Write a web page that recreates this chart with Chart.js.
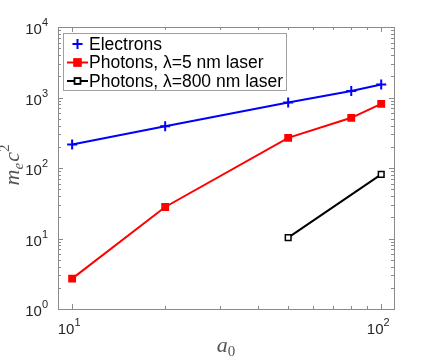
<!DOCTYPE html>
<html>
<head>
<meta charset="utf-8">
<script src="https://cdn.jsdelivr.net/npm/chart.js@4"></script>
<style>
  html, body { margin: 0; padding: 0; background: #fff; }
</style>
</head>
<body>
<canvas id="chart" width="436" height="362"></canvas>
<script>
// data
const a0 = [10, 20, 50, 80, 100];
const electrons = [215, 390, 850, 1240, 1530];
const photons5 = [2.7, 28, 268, 515, 813];
const a0Long = [50, 100];
const photons800 = [10.3, 81];
const xExponents = [1, 2];
const yExponents = [0, 1, 2, 3, 4];
const legendLabels = ["Electrons", "Photons, \u03bb=5 nm laser", "Photons, \u03bb=800 nm laser"];

const axisColor = "#8a8a8a";
const labelColor = "#262626";
const sans = '"Liberation Sans", Arial, sans-serif';
const serif = '"Liberation Serif", "DejaVu Serif", serif';

function toPoints(xs, ys) {
  return xs.map((x, i) => ({ x: x, y: ys[i] }));
}

// "10" with a raised exponent, MATLAB style
function powerLabel(ctx, exp, x, y, align) {
  ctx.font = "15px " + sans;
  let wBase = ctx.measureText("10").width;
  ctx.font = "11px " + sans;
  let wExp = ctx.measureText(String(exp)).width;
  let left = align === "right" ? x - wBase - wExp : x - (wBase + wExp) / 2;
  ctx.textAlign = "left";
  ctx.textBaseline = "alphabetic";
  ctx.font = "15px " + sans;
  ctx.fillText("10", left, y);
  ctx.font = "11px " + sans;
  ctx.fillText(String(exp), left + wBase, y - 8);
}

// box, inward ticks on all sides, tick labels and axis titles
const axesBox = {
  id: "axesBox",
  afterDatasetsDraw(chart) {
    const { ctx, chartArea: a, scales: { x, y } } = chart;
    ctx.save();
    ctx.strokeStyle = axisColor;
    ctx.lineWidth = 1;
    ctx.strokeRect(a.left + 0.5, a.top + 0.5, a.right - a.left, a.bottom - a.top);

    ctx.beginPath();
    for (let d = 0; d <= 2; d++) {
      for (let m = 1; m < 10; m++) {
        let v = m * Math.pow(10, d);
        if (v <= x.min || v >= x.max) continue;
        let px = Math.round(x.getPixelForValue(v)) + 0.5;
        let len = m === 1 ? 5 : 3;
        ctx.moveTo(px, a.bottom); ctx.lineTo(px, a.bottom - len);
        ctx.moveTo(px, a.top); ctx.lineTo(px, a.top + len);
      }
    }
    for (let d = 0; d <= 4; d++) {
      for (let m = 1; m < 10; m++) {
        let v = m * Math.pow(10, d);
        if (v <= y.min || v >= y.max) continue;
        let py = Math.round(y.getPixelForValue(v)) + 0.5;
        let len = m === 1 ? 5 : 3;
        ctx.moveTo(a.left, py); ctx.lineTo(a.left + len, py);
        ctx.moveTo(a.right, py); ctx.lineTo(a.right - len, py);
      }
    }
    ctx.stroke();

    ctx.fillStyle = labelColor;
    for (let e of xExponents) {
      let px = x.getPixelForValue(Math.pow(10, e));
      powerLabel(ctx, e, px - 3, a.bottom + 25, "center");
    }
    for (let e of yExponents) {
      let py = y.getPixelForValue(Math.pow(10, e));
      powerLabel(ctx, e, a.left - 10, py + 7, "right");
    }

    // axis titles
    ctx.fillStyle = "#555";
    ctx.textBaseline = "alphabetic";
    ctx.textAlign = "left";
    ctx.font = "italic 22px " + serif;
    let wa = ctx.measureText("a").width;
    ctx.font = "15px " + serif;
    let w0 = ctx.measureText("0").width;
    let cx = (a.left + a.right) / 2;
    let tx = cx - (wa + w0) / 2;
    ctx.font = "italic 22px " + serif;
    ctx.fillText("a", tx, 352);
    ctx.font = "15px " + serif;
    ctx.fillText("0", tx + wa, 356);

    ctx.translate(19, (a.top + a.bottom) / 2 - 3);
    ctx.rotate(-Math.PI / 2);
    ctx.font = "italic 22px " + serif;
    let wm = ctx.measureText("m").width;
    let wc = ctx.measureText("c").width;
    ctx.font = "italic 15px " + serif;
    let we = ctx.measureText("e").width;
    ctx.font = "15px " + serif;
    let w2 = ctx.measureText("2").width;
    let total = wm + we + wc + w2 + 1;
    let sx = -total / 2;
    ctx.font = "italic 22px " + serif;
    ctx.fillText("m", sx, 0);
    ctx.fillText("c", sx + wm + we + 1, 0);
    ctx.font = "italic 15px " + serif;
    ctx.fillText("e", sx + wm, 4);
    ctx.font = "15px " + serif;
    ctx.fillText("2", sx + wm + we + wc + 1, -10);
    ctx.restore();
  }
};

// legend boxed inside the top-left corner of the axes
const insideLegend = {
  id: "insideLegend",
  afterDraw(chart) {
    const { ctx, chartArea: a } = chart;
    const sets = chart.data.datasets;
    ctx.save();
    ctx.font = "17.5px " + sans;
    let textX = a.left + 31;
    let maxW = Math.max(...legendLabels.map(t => ctx.measureText(t).width));
    let left = a.left + 5.5, top = a.top + 6.5;
    let right = Math.round(textX + maxW + 3) + 0.5;
    let bottom = Math.round(a.top + 63) + 0.5;
    ctx.fillStyle = "#fff";
    ctx.fillRect(left, top, right - left, bottom - top);
    ctx.strokeStyle = "#a0a0a0";
    ctx.lineWidth = 1;
    ctx.strokeRect(left, top, right - left, bottom - top);

    legendLabels.forEach((label, i) => {
      let ry = a.top + 17 + i * 18.5;
      let ds = sets[i];
      let mx = a.left + 19.5;
      if (i > 0) {
        ctx.strokeStyle = ds.borderColor;
        ctx.lineWidth = 2;
        ctx.beginPath();
        ctx.moveTo(a.left + 9, ry);
        ctx.lineTo(a.left + 30, ry);
        ctx.stroke();
      }
      Chart.helpers.drawPoint(ctx, {
        pointStyle: ds.pointStyle,
        radius: ds.pointRadius,
        borderWidth: ds.pointBorderWidth,
        rotation: 0
      }, mx, ry);
      ctx.fillStyle = ds.pointBackgroundColor;
      ctx.strokeStyle = ds.borderColor;
      ctx.lineWidth = ds.pointBorderWidth;
      if (ds.pointStyle !== "cross") ctx.fill();
      ctx.stroke();

      ctx.fillStyle = "#000";
      ctx.font = "17.5px " + sans;
      ctx.textAlign = "left";
      ctx.textBaseline = "middle";
      ctx.fillText(label, textX, ry + 1);
    });
    ctx.restore();
  }
};

new Chart(document.getElementById("chart"), {
  type: "line",
  data: {
    datasets: [
      {
        label: legendLabels[0],
        data: toPoints(a0, electrons),
        borderColor: "#0000ff",
        pointBackgroundColor: "#0000ff",
        borderWidth: 2,
        pointStyle: "cross",
        pointRadius: 5,
        pointBorderWidth: 2
      },
      {
        label: legendLabels[1],
        data: toPoints(a0, photons5),
        borderColor: "#ff0000",
        pointBackgroundColor: "#ff0000",
        borderWidth: 2,
        pointStyle: "rect",
        pointRadius: 4.5,
        pointBorderWidth: 1.5
      },
      {
        label: legendLabels[2],
        data: toPoints(a0Long, photons800),
        borderColor: "#000000",
        pointBackgroundColor: "#ffffff",
        borderWidth: 2,
        pointStyle: "rect",
        pointRadius: 4,
        pointBorderWidth: 1.5
      }
    ]
  },
  options: {
    responsive: false,
    animation: false,
    layout: { padding: { top: 27, right: 42, left: 0, bottom: 0 } },
    plugins: {
      legend: { display: false },
      tooltip: { enabled: false }
    },
    scales: {
      x: {
        type: "logarithmic",
        min: 9,
        max: 110,
        ticks: { display: false },
        grid: { display: false },
        border: { display: false },
        afterFit: s => { s.height = 53; }
      },
      y: {
        type: "logarithmic",
        min: 1,
        max: 10000,
        ticks: { display: false },
        grid: { display: false },
        border: { display: false },
        afterFit: s => { s.width = 58; }
      }
    }
  },
  plugins: [axesBox, insideLegend]
});
</script>
</body>
</html>
